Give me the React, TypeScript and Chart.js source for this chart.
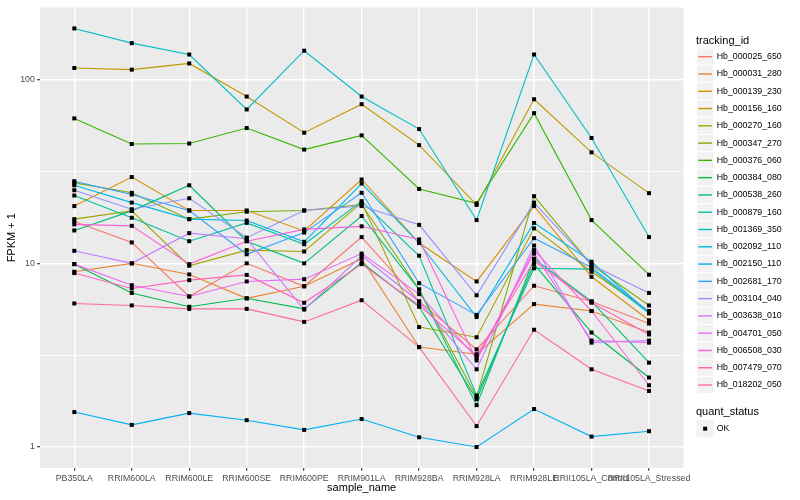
import React, { useEffect, useRef } from "react";
import { Chart, registerables } from "chart.js";

Chart.register(...registerables);

// ---------- data ----------
const categories = [
  "PB350LA", "RRIM600LA", "RRIM600LE", "RRIM600SE", "RRIM600PE", "RRIM901LA",
  "RRIM928BA", "RRIM928LA", "RRIM928LE", "RRII105LA_Control", "RRII105LA_Stressed",
];

const trackingIds = [
  "Hb_000025_650", "Hb_000031_280", "Hb_000139_230", "Hb_000156_160", "Hb_000270_160",
  "Hb_000347_270", "Hb_000376_060", "Hb_000384_080", "Hb_000538_260", "Hb_000879_160",
  "Hb_001369_350", "Hb_002092_110", "Hb_002150_110", "Hb_002681_170", "Hb_003104_040",
  "Hb_003638_010", "Hb_004701_050", "Hb_006508_030", "Hb_007479_070", "Hb_018202_050",
];

const seriesColors = [
  "#F8766D", "#EA8331", "#D89000", "#C09B00", "#A3A500", "#7CAE00", "#39B600",
  "#00BB4E", "#00BF7D", "#00C1A3", "#00BFC4", "#00BAE0", "#00B0F6", "#35A2FF",
  "#9590FF", "#C77CFF", "#E76BF3", "#FA62DB", "#FF62BC", "#FF6C91",
];

const hb000025_650 = [16.9, 13.0, 6.6, 10.0, 7.5, 13.9, 6.2, 3.4, 7.55, 6.2, 4.7];
const hb000031_280 = [9.0, 10.0, 8.7, 6.45, 7.5, 10.6, 3.5, 3.2, 6.0, 5.5, 4.2];
const hb000139_230 = [20.5, 29.5, 19.4, 19.4, 15.0, 28.6, 12.9, 7.97, 20.5, 8.45, 4.9];
const hb000156_160 = [115.7, 113.3, 122.5, 80.9, 51.4, 73.5, 44.0, 20.8, 78.2, 40.2, 24.1];
const hb000270_160 = [17.4, 19.3, 9.7, 11.8, 11.6, 21.4, 4.5, 3.96, 15.5, 9.0, 5.5];
const hb000347_270 = [27.4, 24.2, 17.4, 19.1, 19.4, 20.9, 7.2, 1.87, 23.2, 9.8, 5.9];
const hb000376_060 = [61.5, 44.6, 44.9, 54.5, 41.6, 49.7, 25.4, 21.2, 65.7, 17.2, 8.67];
const hb000384_080 = [9.9, 6.9, 5.8, 6.45, 5.65, 10.1, 5.8, 1.82, 9.9, 4.2, 2.39];
const hb000538_260 = [15.1, 19.3, 26.6, 13.2, 10.0, 18.1, 7.2, 1.69, 10.6, 6.2, 2.88];
const hb000879_160 = [23.4, 17.7, 13.2, 16.6, 12.7, 21.8, 11.0, 1.91, 9.4, 9.3, 5.35];
const hb001369_350 = [190, 158, 137, 68.8, 143.7, 80.9, 53.8, 17.2, 137, 48.1, 13.9];
const hb002092_110 = [26.6, 21.4, 17.4, 17.1, 13.1, 27.2, 12.9, 5.1, 16.6, 10.2, 5.35];
const hb002150_110 = [1.55, 1.32, 1.53, 1.40, 1.24, 1.42, 1.13, 1.0, 1.61, 1.14, 1.22];
const hb002681_170 = [28.0, 23.7, 19.4, 11.2, 14.7, 24.2, 7.8, 5.24, 13.7, 9.5, 5.45];
const hb003104_040 = [25.0, 19.7, 22.6, 13.8, 19.4, 20.5, 16.2, 6.7, 21.4, 9.8, 6.9];
const hb003638_010 = [11.7, 10.0, 14.6, 13.6, 5.6, 11.0, 6.2, 2.65, 12.5, 3.7, 3.8];
const hb004701_050 = [9.9, 7.6, 6.6, 7.97, 8.2, 11.3, 6.8, 3.05, 11.3, 3.8, 3.7];
const hb006508_030 = [16.3, 16.0, 9.9, 13.2, 15.3, 15.9, 13.5, 2.96, 11.8, 5.5, 2.17];
const hb007479_070 = [8.85, 7.3, 8.1, 8.65, 6.1, 9.9, 5.9, 3.15, 10.3, 6.1, 4.1];
const hb018202_050 = [6.05, 5.9, 5.65, 5.65, 4.8, 6.3, 3.5, 1.30, 4.35, 2.65, 2.02];

const seriesValues = [
  hb000025_650, hb000031_280, hb000139_230, hb000156_160, hb000270_160,
  hb000347_270, hb000376_060, hb000384_080, hb000538_260, hb000879_160,
  hb001369_350, hb002092_110, hb002150_110, hb002681_170, hb003104_040,
  hb003638_010, hb004701_050, hb006508_030, hb007479_070, hb018202_050,
];

const yMajorTicks = [1, 10, 100];
const yMinorTicks = [3.1623, 31.623];
const quantStatus = ["OK"];

// ---------- styling ----------
const FONT = '"Liberation Sans", Arial, Helvetica, sans-serif';
const W = 800;
const H = 500;
const PANEL = { left: 39.8, top: 5.5, right: 683.5, bottom: 468 };

const decorPlugin = {
  id: "decor",
  beforeDraw(chart: any) {
    const { ctx, chartArea: a } = chart;
    ctx.save();
    ctx.fillStyle = "#FFFFFF";
    ctx.fillRect(0, 0, chart.width, chart.height);
    ctx.fillStyle = "#EBEBEB";
    ctx.fillRect(a.left, a.top, a.right - a.left, a.bottom - a.top);
    ctx.restore();
  },
  afterDatasetsDraw(chart: any) {
    const ctx = chart.ctx;
    const a = chart.chartArea;
    ctx.save();
    ctx.beginPath();
    ctx.rect(a.left, a.top, a.right - a.left, a.bottom - a.top);
    ctx.clip();
    ctx.fillStyle = "#000000";
    chart.data.datasets.forEach((_: any, i: number) => {
      const meta = chart.getDatasetMeta(i);
      meta.data.forEach((el: any) => {
        ctx.fillRect(el.x - 2, el.y - 2, 4, 4);
      });
    });
    ctx.restore();
  },
  afterDraw(chart: any) {
    const ctx = chart.ctx;
    const a = chart.chartArea;
    ctx.save();
    // axis titles
    ctx.fillStyle = "#000000";
    ctx.font = `11px ${FONT}`;
    ctx.textAlign = "center";
    ctx.textBaseline = "middle";
    ctx.fillText("sample_name", (a.left + a.right) / 2, 488);
    ctx.save();
    ctx.translate(12, (a.top + a.bottom) / 2);
    ctx.rotate(-Math.PI / 2);
    ctx.fillText("FPKM + 1", 0, 0);
    ctx.restore();

    // legend: tracking_id
    const lx = 696.5;
    const key = 17.28;
    ctx.textAlign = "left";
    ctx.font = `11px ${FONT}`;
    ctx.fillText("tracking_id", 696, 40.5);
    ctx.font = `8.8px ${FONT}`;
    trackingIds.forEach((id, i) => {
      const cy = 56.7 + i * key;
      ctx.fillStyle = "#F2F2F2";
      ctx.fillRect(lx, cy - key / 2, key, key);
      ctx.strokeStyle = "#FFFFFF";
      ctx.lineWidth = 1;
      ctx.strokeRect(lx, cy - key / 2, key, key);
      ctx.strokeStyle = seriesColors[i];
      ctx.lineWidth = 1.4;
      ctx.beginPath();
      ctx.moveTo(lx + 1.7, cy);
      ctx.lineTo(lx + key - 1.7, cy);
      ctx.stroke();
      ctx.fillStyle = "#000000";
      ctx.fillText(id, 716.7, cy);
    });

    // legend: quant_status
    ctx.font = `11px ${FONT}`;
    ctx.fillStyle = "#000000";
    ctx.fillText("quant_status", 696, 411.7);
    ctx.font = `8.8px ${FONT}`;
    quantStatus.forEach((s, i) => {
      const cy = 428.7 + i * key;
      ctx.fillStyle = "#F2F2F2";
      ctx.fillRect(lx, cy - key / 2, key, key);
      ctx.fillStyle = "#000000";
      ctx.fillRect(lx + key / 2 - 2, cy - 2, 4, 4);
      ctx.fillText(s, 716.7, cy);
    });
    ctx.restore();
  },
};

export default function App() {
  const canvasRef = useRef<HTMLCanvasElement | null>(null);

  useEffect(() => {
    document.body.style.margin = "0";
    const canvas = canvasRef.current;
    if (!canvas) return;

    const datasets = seriesValues.map((vals, i) => ({
      label: trackingIds[i],
      data: vals.map((v, j) => ({ x: j, y: v })),
      borderColor: seriesColors[i],
      backgroundColor: seriesColors[i],
      borderWidth: 1.1,
      pointRadius: 0,
      pointHoverRadius: 0,
      tension: 0,
      fill: false,
      order: seriesValues.length - i,
    }));

    const isMajorY = (v: number) => yMajorTicks.some((m) => Math.abs(m - v) < 1e-6);

    const chart = new Chart(canvas, {
      type: "line",
      data: { datasets },
      plugins: [decorPlugin],
      options: {
        animation: false,
        responsive: false,
        maintainAspectRatio: false,
        events: [],
        layout: {
          padding: { left: 0, top: PANEL.top, right: W - PANEL.right, bottom: 0 },
        },
        plugins: {
          legend: { display: false },
          tooltip: { enabled: false },
        },
        scales: {
          x: {
            type: "linear",
            min: -0.6,
            max: categories.length - 1 + 0.6,
            afterBuildTicks: (scale: any) => {
              scale.ticks = categories.map((_, i) => ({ value: i }));
            },
            afterFit: (scale: any) => {
              scale.height = H - PANEL.bottom;
            },
            ticks: {
              autoSkip: false,
              maxRotation: 0,
              minRotation: 0,
              padding: 2.2,
              color: "#4D4D4D",
              font: { family: FONT, size: 8.8 },
              callback: (v: any) => categories[Math.round(Number(v))] ?? "",
            },
            grid: {
              color: "#FFFFFF",
              lineWidth: 1.4,
              drawTicks: true,
              tickLength: 2.75,
              tickColor: "#333333",
              tickWidth: 1.1,
            },
            border: { display: false },
          },
          y: {
            type: "logarithmic",
            min: 0.769,
            max: 247,
            afterBuildTicks: (scale: any) => {
              const all = [...yMajorTicks, ...yMinorTicks].sort((p, q) => p - q);
              scale.ticks = all.map((v) => ({ value: v, major: isMajorY(v) }));
            },
            afterFit: (scale: any) => {
              scale.width = PANEL.left;
            },
            ticks: {
              autoSkip: false,
              padding: 2.2,
              color: "#4D4D4D",
              font: { family: FONT, size: 8.8 },
              callback: (v: any) => (isMajorY(Number(v)) ? String(Math.round(Number(v))) : ""),
            },
            grid: {
              color: "#FFFFFF",
              lineWidth: (ctx: any) => (ctx.tick && isMajorY(ctx.tick.value) ? 1.4 : 0.7),
              drawTicks: true,
              tickLength: 2.75,
              tickColor: (ctx: any) =>
                ctx.tick && isMajorY(ctx.tick.value) ? "#333333" : "rgba(0,0,0,0)",
              tickWidth: 1.1,
            },
            border: { display: false },
          },
        },
      } as any,
    });

    return () => {
      chart.destroy();
    };
  }, []);

  return (
    <div style={{ position: "relative", width: W, height: H }}>
      <canvas ref={canvasRef} width={W} height={H} style={{ width: W, height: H, display: "block" }} />
    </div>
  );
}
